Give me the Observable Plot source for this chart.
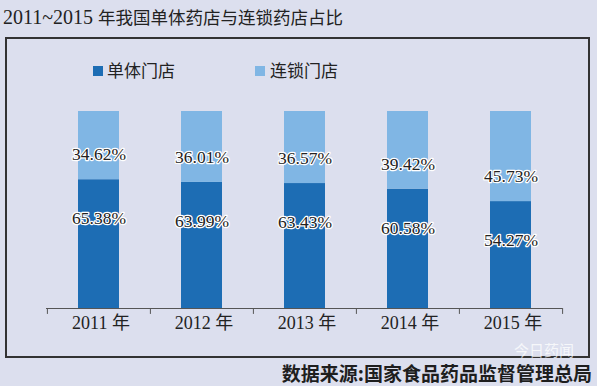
<!DOCTYPE html>
<html>
<head>
<meta charset="utf-8">
<script src="https://cdn.jsdelivr.net/npm/d3@7"></script>
<script src="https://cdn.jsdelivr.net/npm/@observablehq/plot@0.6"></script>
<style>
  html, body { margin: 0; padding: 0; }
  body { width: 597px; height: 386px; background: #dcdfee; position: relative; overflow: hidden; }
  #title { position: absolute; left: 3px; top: 5px; font-size: 20px; line-height: 24px; color: #222;
           font-family: "Liberation Serif", serif; white-space: nowrap; }
  #title .cjk { font-family: "Noto Sans CJK SC", sans-serif; font-size: 17.5px; }
  #frame { position: absolute; left: 5px; top: 37px; width: 581px; height: 317px; border: 2px solid #333; }
  #chart { position: absolute; left: 0; top: 0; }
  .leg { position: absolute; top: 60px; font-family: "Noto Sans CJK SC", sans-serif; font-size: 17px; line-height: 20px; color: #222; white-space: nowrap; }
  .sw { position: absolute; width: 10px; height: 10px; top: 66px; }
  #source { position: absolute; right: 5px; top: 363px; font-family: "Noto Sans CJK SC", sans-serif; font-weight: bold;
            font-size: 19px; line-height: 20px; color: #1e1e1e; white-space: nowrap; }
  #wm { position: absolute; left: 514px; top: 342px; font-family: "Noto Sans CJK SC", sans-serif; font-size: 15px; line-height: 16px;
        color: rgba(255,255,255,0.75); white-space: nowrap; }
</style>
</head>
<body>
<div id="title">2011~2015 <span class="cjk">年我国单体药店与连锁药店占比</span></div>
<div id="frame"></div>
<div id="chart"></div>
<div id="legend"></div>
<div id="wm">今日药闻</div>
<div id="source">数据来源:国家食品药品监督管理总局</div>
<script>
const years = ["2011 年", "2012 年", "2013 年", "2014 年", "2015 年"];
const singleStores = [65.38, 63.99, 63.43, 60.58, 54.27];
const chainStores = [34.62, 36.01, 36.57, 39.42, 45.73];
const seriesNames = ["单体门店", "连锁门店"];
const seriesColors = ["#1d6db4", "#80b6e4"];

const data = [];
years.forEach((y, i) => {
  data.push({year: y, series: seriesNames[0], value: singleStores[i]});
  data.push({year: y, series: seriesNames[1], value: chainStores[i]});
});

const fmt = v => v.toFixed(2) + "%";
const serif = "Liberation Serif, Noto Sans CJK SC, serif";
const step = (597 - 46 - 35) / years.length;

const chart = Plot.plot({
  width: 597,
  height: 386,
  marginTop: 111,
  marginBottom: 78,
  marginLeft: 46,
  marginRight: 35,
  x: {domain: years, padding: 0, axis: null},
  y: {domain: [0, 100], axis: null},
  color: {domain: seriesNames, range: seriesColors},
  style: {background: "transparent", overflow: "visible"},
  marks: [
    Plot.barY(data, {x: "year", y: "value", fill: "series", order: seriesNames, insetLeft: 31, insetRight: 31}),
    Plot.ruleY([0], {stroke: "#555", strokeWidth: 1}),
    Plot.ruleX(years, {x: d => d, y1: 0, y2: -3, dx: -step / 2, stroke: "#555"}),
    Plot.ruleX([years[years.length - 1]], {x: d => d, y1: 0, y2: -3, dx: step / 2, stroke: "#555"}),
    Plot.text(years, {x: d => d, y: 0, dy: 15, dx: 2, text: d => d, fontSize: 18, fontFamily: serif, fill: "#222"}),
    Plot.text(years, {x: d => d, y: (d, i) => singleStores[i], dy: -25, text: (d, i) => fmt(chainStores[i]),
      fontSize: 17.5, fontFamily: serif, fill: "#222", stroke: "white", strokeWidth: 2.5}),
    Plot.text(years, {x: d => d, y: (d, i) => singleStores[i], dy: 39, text: (d, i) => fmt(singleStores[i]),
      fontSize: 17.5, fontFamily: serif, fill: "#222", stroke: "white", strokeWidth: 2.5})
  ]
});
document.getElementById("chart").appendChild(chart);

const legend = document.getElementById("legend");
const legendPos = [[93, 107], [255, 270]];
seriesNames.forEach((name, i) => {
  const sw = document.createElement("div");
  sw.className = "sw";
  sw.style.left = legendPos[i][0] + "px";
  sw.style.background = seriesColors[i];
  legend.appendChild(sw);
  const t = document.createElement("div");
  t.className = "leg";
  t.style.left = legendPos[i][1] + "px";
  t.textContent = name;
  legend.appendChild(t);
});
</script>
</body>
</html>
